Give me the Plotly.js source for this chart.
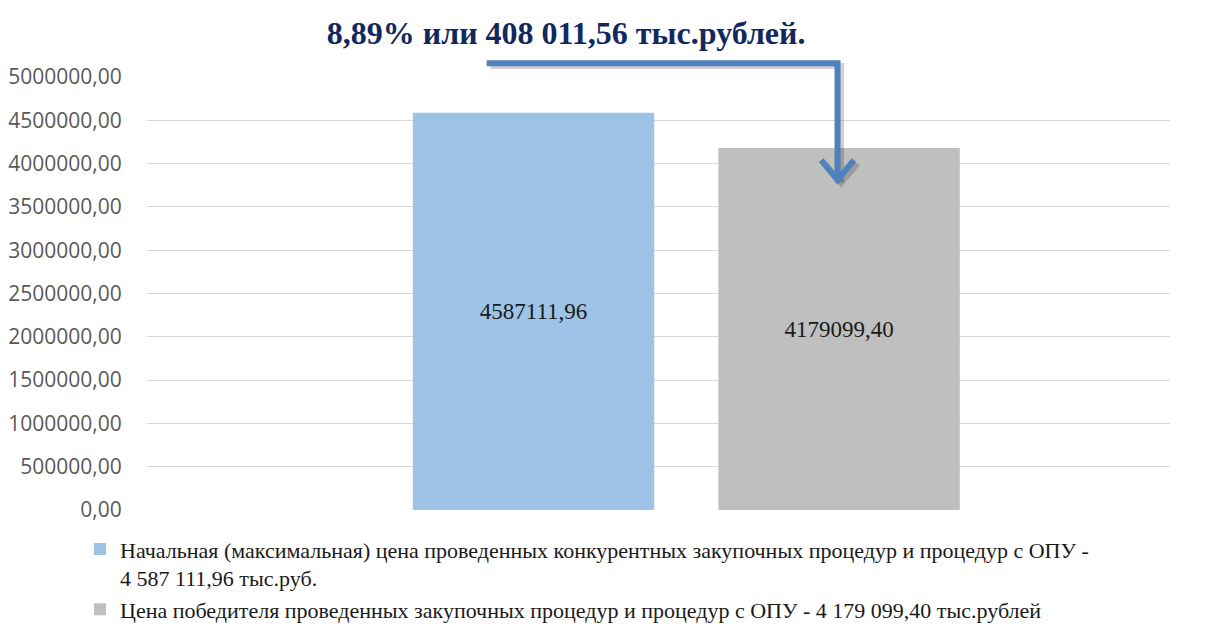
<!DOCTYPE html>
<html>
<head>
<meta charset="utf-8">
<script src="https://cdn.plot.ly/plotly-3.0.1.min.js"></script>
<style>html,body{margin:0;padding:0;background:#fff;}#chart{width:1211px;height:628px;}</style>
</head>
<body>
<div id="chart"></div>
<script>
const seriesNames = [
  "Начальная (максимальная) цена проведенных конкурентных закупочных процедур и процедур с ОПУ -<br>4 587 111,96 тыс.руб.",
  "Цена победителя проведенных закупочных процедур и процедур с ОПУ - 4 179 099,40 тыс.рублей"
];
const seriesValues = [4587111.96, 4179099.40];
const seriesLabels = ["4587111,96", "4179099,40"];
const seriesColors = ["#9DC3E6", "#BFBFBF"];
const barPositions = [0, 1];
const titleText = "8,89% или 408 011,56 тыс.рублей.";

const traces = seriesValues.map((v, i) => ({
  type: 'bar',
  name: seriesNames[i],
  x: [barPositions[i]],
  y: [v],
  width: 0.79,
  marker: {color: seriesColors[i]},
  text: [seriesLabels[i]],
  textposition: 'inside',
  insidetextanchor: 'middle',
  textangle: 0,
  textfont: {family: 'Liberation Serif, Times New Roman, serif', size: 23, color: '#1a1a1a'},
  hoverinfo: 'none'
}));

const arrowColor = '#4F81BD';
const layout = {
  width: 1211, height: 628,
  margin: {l: 147, r: 41, t: 77, b: 118, autoexpand: false},
  paper_bgcolor: '#fff', plot_bgcolor: '#fff',
  showlegend: true,
  separators: ', ',
  title: {
    text: '<b>' + titleText + '</b>',
    x: 0.4675, xref: 'container', xanchor: 'center',
    y: 0.947, yref: 'container', yanchor: 'middle',
    font: {family: 'Liberation Serif, Times New Roman, serif', size: 32, color: '#12295E'}
  },
  xaxis: {
    range: [-1.265, 2.083],
    showgrid: false, zeroline: false, showticklabels: false, showline: false, fixedrange: true
  },
  yaxis: {
    range: [0, 5000000],
    dtick: 500000,
    tickformat: '.2f',
    showgrid: true, gridcolor: '#D9D9D9', gridwidth: 1,
    zeroline: false, showline: false,
    ticks: 'outside', ticklen: 20, tickcolor: 'rgba(0,0,0,0)',
    tickfont: {family: 'Open Sans, sans-serif', size: 21, color: '#595959'}
  },
  legend: {
    orientation: 'v',
    x: -0.0655, xanchor: 'left',
    y: -0.042, yanchor: 'top',
    valign: 'top',
    font: {family: 'Liberation Serif, Times New Roman, serif', size: 22, color: '#1a1a1a'},
    bgcolor: 'rgba(0,0,0,0)',
    tracegroupgap: 0
  },
  shapes: [
    {type: 'path', xref: 'paper', yref: 'paper',
     path: 'M0.3355,1.0253 L0.6784,1.0253 L0.6784,0.7555',
     line: {color: 'rgba(0,0,0,0.18)', width: 6}},
    {type: 'path', xref: 'paper', yref: 'paper',
     path: 'M0.6625,0.8 L0.6784,0.7555 L0.6945,0.8',
     line: {color: 'rgba(0,0,0,0.18)', width: 6}},
    {type: 'path', xref: 'paper', yref: 'paper',
     path: 'M0.332,1.032 L0.675,1.032 L0.675,0.762',
     line: {color: arrowColor, width: 6}},
    {type: 'path', xref: 'paper', yref: 'paper',
     path: 'M0.659,0.808 L0.675,0.762 L0.691,0.808',
     line: {color: arrowColor, width: 6}}
  ]
};

Plotly.newPlot('chart', traces, layout, {displayModeBar: false, staticPlot: true});
</script>
</body>
</html>
